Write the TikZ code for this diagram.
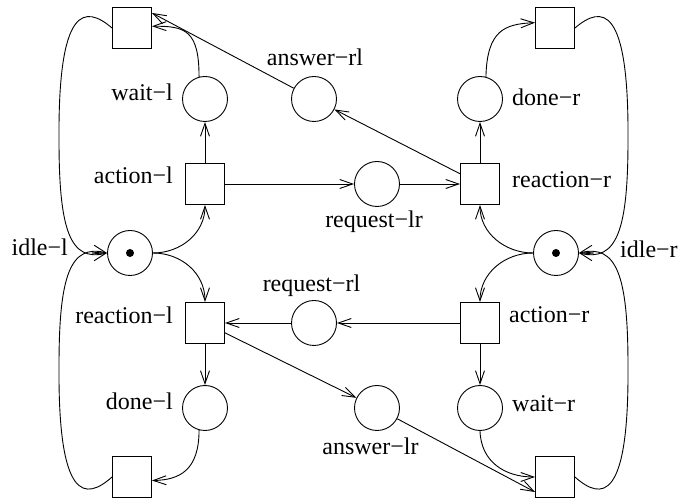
\documentclass[tikz,border=0pt]{standalone}
\usepackage{fontspec}
\setmainfont{Liberation Serif}
\usetikzlibrary{arrows.meta}
\begin{document}
\begin{tikzpicture}[x=1pt,y=-1pt,
  place/.style={circle,draw,line width=0.9pt,minimum size=45pt,inner sep=0pt},
  trans/.style={rectangle,draw,line width=0.9pt,minimum width=39pt,minimum height=41pt,inner sep=0pt},
  lbl/.style={inner sep=0pt,font=\fontsize{24}{28}\selectfont,text height=16pt,text depth=5pt},
  arc/.style={line width=0.9pt,-{Straight Barb[length=13pt,width=9pt]}},
  token/.style={circle,fill,inner sep=0pt,minimum size=8pt}
]
\useasboundingbox[fill=white] (0,0) rectangle (681,502);
% transitions
\node[trans] (tl) at (132,28) {};
\node[trans] (tr) at (555,28) {};
\node[trans] (bl) at (132,477) {};
\node[trans] (br) at (555,477) {};
\node[trans] (actionl) at (205,184) {};
\node[trans] (reactionr) at (480,184) {};
\node[trans] (reactionl) at (205,323) {};
\node[trans] (actionr) at (480,323) {};
% places
\node[place] (waitl) at (205,99) {};
\node[place] (answerrl) at (314,99) {};
\node[place] (doner) at (480,99) {};
\node[place] (requestlr) at (377,184) {};
\node[place] (idlel) at (130,253) {};
\node[place] (idler) at (556,253) {};
\node[place] (requestrl) at (314,323) {};
\node[place] (donel) at (205,408) {};
\node[place] (answerlr) at (377,408) {};
\node[place] (waitr) at (480,408) {};
\node[token] (tokl) at (idlel.center) {};
\node[token] (tokr) at (idler.center) {};
% labels
\node[lbl,anchor=east] (lwaitl) at (173,95) {wait−l};
\node[lbl,anchor=east] (lactionl) at (173,178.5) {action−l};
\node[lbl,anchor=east] (lreactionl) at (173,318.5) {reaction−l};
\node[lbl,anchor=east] (ldonel) at (173,404.5) {done−l};
\node[lbl,anchor=east] (lidlel) at (68,250.5) {idle−l};
\node[lbl,anchor=west] (lidler) at (620,252.5) {idle−r};
\node[lbl,anchor=west] (ldoner) at (512,100.5) {done−r};
\node[lbl,anchor=west] (lreactionr) at (512,182.5) {reaction−r};
\node[lbl,anchor=west] (lactionr) at (509,317.5) {action−r};
\node[lbl,anchor=west] (lwaitr) at (512,406.5) {wait−r};
\node[lbl] (lanswerrl) at (315,60.5) {answer−rl};
\node[lbl] (lrequestlr) at (374,222.5) {request−lr};
\node[lbl] (lrequestrl) at (311.5,286.5) {request−rl};
\node[lbl] (lanswerlr) at (370.5,449.5) {answer−lr};
% straight arcs
\draw[arc] (actionl) -- (waitl);
\draw[arc] (actionl) -- (requestlr);
\draw[arc] (requestlr) -- (reactionr);
\draw[arc] (reactionr) -- (answerrl);
\draw[arc] (answerrl) -- (tl.37);
\draw[arc] (reactionr) -- (doner);
\draw[arc] (reactionl) -- (donel);
\draw[arc] (requestrl) -- (reactionl);
\draw[arc] (actionr) -- (requestrl);
\draw[arc] (reactionl) -- (answerlr);
\draw[arc] (answerlr) -- (br.217);
\draw[arc] (actionr) -- (waitr);
% curved arcs
\draw[arc] (waitl.105) .. controls (199,30) and (185,26) .. (tl.5);
\draw[arc] (doner.75) .. controls (487,30) and (505,24) .. (tr.165);
\draw[arc] (donel.255) .. controls (199,470) and (180,480) .. (bl.350);
\draw[arc] (waitr.south) .. controls (481,462) and (505,477) .. (br.west);
\draw[arc] (idlel.east) .. controls (181,253) and (205,233) .. (actionl.south);
\draw[arc] (idlel.east) .. controls (181,253) and (205,273) .. (reactionl.north);
\draw[arc] (idler.west) .. controls (505,253) and (480,233) .. (reactionr.south);
\draw[arc] (idler.west) .. controls (505,253) and (480,273) .. (actionr.north);
% loops
\draw[arc] (tl.west) .. controls (85,5) and (58,5) .. (59,140) .. controls (59,230) and (70,262) .. (idlel.west);
\draw[arc] (bl.west) .. controls (85,501) and (58,501) .. (59,366) .. controls (59,276) and (70,244) .. (idlel.west);
\draw[arc] (tr.east) .. controls (602,5) and (629,5) .. (628,140) .. controls (628,230) and (617,262) .. (idler.east);
\draw[arc] (br.east) .. controls (602,501) and (629,501) .. (628,366) .. controls (628,276) and (617,244) .. (idler.east);
\end{tikzpicture}
\end{document}
